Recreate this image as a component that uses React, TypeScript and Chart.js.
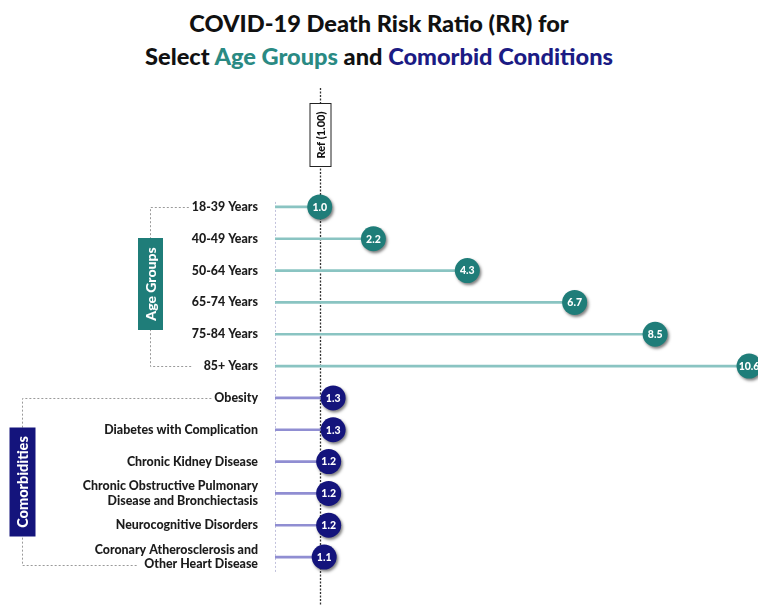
import React, { useEffect, useRef } from "react";
import { Chart, registerables } from "chart.js";
Chart.register(...registerables);

const ageGroups: (string | string[])[] = ["18-39 Years", "40-49 Years", "50-64 Years", "65-74 Years", "75-84 Years", "85+ Years"];
const ageRR = [1.0, 2.2, 4.3, 6.7, 8.5, 10.6];
const comorbidities: (string | string[])[] = [
  "Obesity",
  "Diabetes with Complication",
  "Chronic Kidney Disease",
  ["Chronic Obstructive Pulmonary", "Disease and Bronchiectasis"],
  "Neurocognitive Disorders",
  ["Coronary Atherosclerosis and", "Other Heart Disease"],
];
const comorbRR = [1.3, 1.3, 1.2, 1.2, 1.2, 1.1];
const refValue = 1.0;
const refLabel = "Ref (1.00)";
const xMin = 0;
const xMax = 10.8;

const FONT = "Lato, 'Open Sans', sans-serif";
const TEAL = "#1f7d79";
const TEAL_LINE = "#8ac4c2";
const NAVY = "#14147c";
const NAVY_LINE = "#908ed2";
const TICK_PAD = 17;
const TICK_FONT_SIZE = 12.4;
const TICK_WEIGHT = 900;

const labels = [...ageGroups, ...comorbidities];
const values = [...ageRR, ...comorbRR];
const nAge = ageGroups.length;
const dotColors = values.map((_, i) => (i < nAge ? TEAL : NAVY));
const lineColors = values.map((_, i) => (i < nAge ? TEAL_LINE : NAVY_LINE));

function labelWidth(ctx: CanvasRenderingContext2D, lab: string | string[], line: number) {
  const arr = Array.isArray(lab) ? lab : [lab];
  const l = line < 0 ? arr[arr.length - 1] : arr[line];
  return ctx.measureText(l).width;
}

const decor = {
  id: "decor",
  beforeDatasetsDraw(chart: any) {
    const { ctx, chartArea, scales } = chart;
    const x = scales.x, y = scales.y;
    ctx.save();
    const x0 = Math.round(x.getPixelForValue(0)) + 0.5;
    ctx.strokeStyle = "#c2c2dc";
    ctx.lineWidth = 1;
    ctx.setLineDash([2, 2]);
    ctx.beginPath();
    ctx.moveTo(x0, y.getPixelForValue(0) - 5);
    ctx.lineTo(x0, chartArea.bottom);
    ctx.stroke();
    const xr = Math.round(x.getPixelForValue(refValue)) + 0.5;
    ctx.strokeStyle = "#333";
    ctx.lineWidth = 1.3;
    ctx.setLineDash([2, 1.5]);
    ctx.beginPath();
    ctx.moveTo(xr, 88);
    ctx.lineTo(xr, chart.height);
    ctx.stroke();
    ctx.restore();
  },
  beforeDatasetDraw(chart: any, args: any) {
    if (args.index === 1) {
      const ctx = chart.ctx;
      ctx.save();
      ctx.shadowColor = "rgba(0,0,0,0.5)";
      ctx.shadowBlur = 3;
      ctx.shadowOffsetX = 1.5;
      ctx.shadowOffsetY = 2;
    }
  },
  afterDatasetDraw(chart: any, args: any) {
    if (args.index === 1) chart.ctx.restore();
  },
  afterDatasetsDraw(chart: any) {
    const { ctx } = chart;
    const meta = chart.getDatasetMeta(1);
    ctx.save();
    ctx.fillStyle = "#fff";
    ctx.font = `900 10.5px ${FONT}`;
    ctx.textAlign = "center";
    ctx.textBaseline = "middle";
    meta.data.forEach((pt: any, i: number) => {
      ctx.fillText(values[i].toFixed(1), pt.x, pt.y + 0.5);
    });
    ctx.restore();
  },
  afterDraw(chart: any) {
    const { ctx, chartArea, scales } = chart;
    const x = scales.x, y = scales.y;
    const tickRight = chartArea.left - TICK_PAD;
    ctx.save();
    ctx.font = `${TICK_WEIGHT} ${TICK_FONT_SIZE}px ${FONT}`;

    const drawBracket = (first: number, last: number, bx: number, color: string, text: string, boxW: number, boxH: number, boxCy: number, fontSize: number) => {
      const yTop = y.getPixelForValue(first);
      const lastLab = labels[last];
      const multi = Array.isArray(lastLab) && lastLab.length > 1;
      const yBot = y.getPixelForValue(last) + (multi ? 8 : 0);
      const topEnd = tickRight - labelWidth(ctx, labels[first], 0) - 3;
      const botEnd = tickRight - labelWidth(ctx, lastLab, -1) - (multi ? 7 : 11);
      ctx.save();
      ctx.strokeStyle = "#9a9a9a";
      ctx.lineWidth = 1;
      ctx.setLineDash([2, 2]);
      ctx.beginPath();
      ctx.moveTo(topEnd, Math.round(yTop) + 0.5);
      ctx.lineTo(bx + 0.5, Math.round(yTop) + 0.5);
      ctx.lineTo(bx + 0.5, Math.round(yBot) + 0.5);
      ctx.lineTo(botEnd, Math.round(yBot) + 0.5);
      ctx.stroke();
      ctx.restore();
      ctx.fillStyle = color;
      ctx.fillRect(bx + 0.5 - boxW / 2, boxCy - boxH / 2, boxW, boxH);
      ctx.save();
      ctx.translate(bx + 1, boxCy);
      ctx.rotate(-Math.PI / 2);
      ctx.fillStyle = "#fff";
      ctx.font = `900 ${fontSize}px ${FONT}`;
      ctx.textAlign = "center";
      ctx.textBaseline = "middle";
      ctx.fillText(text, 0, 0);
      ctx.restore();
    };

    drawBracket(0, nAge - 1, 150, TEAL, "Age Groups", 25, 92, 284, 14);
    drawBracket(nAge, labels.length - 1, 22, NAVY, "Comorbidities", 26, 109, 482, 14.5);

    const xr = Math.round(x.getPixelForValue(refValue)) + 0.5;
    ctx.fillStyle = "#fff";
    ctx.fillRect(xr - 10.5, 103, 21, 64);
    ctx.strokeStyle = "#222";
    ctx.lineWidth = 1;
    ctx.setLineDash([]);
    ctx.strokeRect(xr - 10.5, 103.5, 21, 63);
    ctx.save();
    ctx.translate(xr + 0.5, 135);
    ctx.rotate(-Math.PI / 2);
    ctx.fillStyle = "#111";
    ctx.font = `900 11px ${FONT}`;
    ctx.textAlign = "center";
    ctx.textBaseline = "middle";
    ctx.fillText(refLabel, 0, 0);
    ctx.restore();
    ctx.restore();
  },
};

export default function App() {
  const ref = useRef<HTMLCanvasElement | null>(null);
  useEffect(() => {
    if (!ref.current) return;
    const chart = new Chart(ref.current, {
      type: "bar",
      data: {
        labels,
        datasets: [
          {
            type: "bar",
            data: values,
            backgroundColor: lineColors,
            barThickness: 2,
            order: 2,
          } as any,
          {
            type: "line",
            indexAxis: "y",
            data: values,
            showLine: false,
            pointRadius: 12.5,
            pointHoverRadius: 12.5,
            pointBorderWidth: 0,
            pointBackgroundColor: dotColors,
            order: 1,
          } as any,
        ],
      },
      options: {
        indexAxis: "y",
        responsive: false,
        animation: false,
        events: [],
        layout: { autoPadding: false, padding: { top: 191, bottom: 33, left: 0, right: 0 } },
        plugins: { legend: { display: false }, tooltip: { enabled: false }, title: { display: false } },
        scales: {
          x: { type: "linear", min: xMin, max: xMax, display: false },
          y: {
            type: "category",
            grid: { display: false, drawTicks: false, tickLength: 0 },
            border: { display: false },
            ticks: {
              autoSkip: false,
              padding: TICK_PAD,
              color: "#1c1c1c",
              font: { family: FONT, size: TICK_FONT_SIZE, weight: TICK_WEIGHT, lineHeight: 1.15 },
            },
            afterFit: (s: any) => {
              s.width = 275;
            },
          },
        },
      } as any,
      plugins: [decor],
    });
    return () => chart.destroy();
  }, []);

  return (
    <div style={{ position: "absolute", left: 0, top: 0, width: 758, height: 606, background: "#fff" }}>
      <div
        style={{
          position: "absolute",
          top: 7,
          left: 0,
          width: 758,
          textAlign: "center",
          fontFamily: FONT,
          fontWeight: 900,
          fontSize: 23.6,
          lineHeight: "33px",
          color: "#111",
        }}
      >
        <div>COVID-19 Death Risk Ratio (RR) for</div>
        <div>
          Select <span style={{ color: "#2a8a83" }}>Age Groups</span> and{" "}
          <span style={{ color: "#1b1b84" }}>Comorbid Conditions</span>
        </div>
      </div>
      <canvas ref={ref} width={758} height={606} style={{ position: "absolute", left: 0, top: 0 }} />
    </div>
  );
}
